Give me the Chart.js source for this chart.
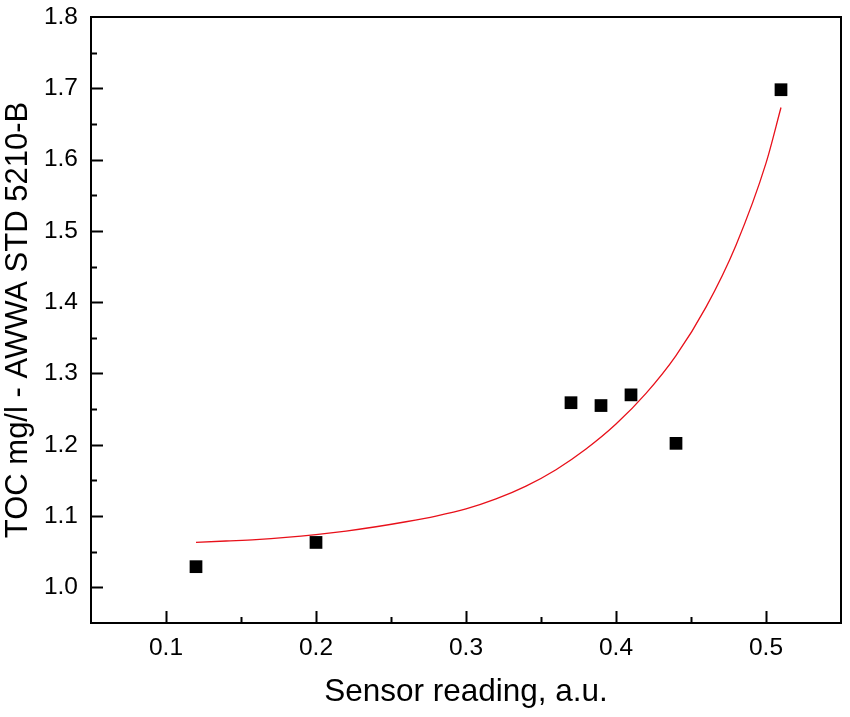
<!DOCTYPE html>
<html>
<head>
<meta charset="utf-8">
<title>TOC vs sensor reading</title>
<script src="https://cdn.jsdelivr.net/npm/chart.js@4/dist/chart.umd.min.js"></script>
<style>
  html, body { margin: 0; padding: 0; background: #fff; }
  #chart-wrap { width: 850px; height: 717px; }
</style>
</head>
<body>
<div id="chart-wrap"><canvas id="myChart"></canvas></div>
<script>
'use strict';

/** Data */
// measured points
let sensorReading = [0.12, 0.20, 0.37, 0.39, 0.41, 0.44, 0.51];
let tocValues = [1.029, 1.063, 1.259, 1.255, 1.270, 1.202, 1.698];

// fitted curve
let fitX = [0.12, 0.14, 0.16, 0.18, 0.20, 0.22, 0.24, 0.26, 0.28, 0.30, 0.32, 0.34, 0.36, 0.38, 0.40, 0.42, 0.44, 0.46, 0.48, 0.50, 0.51];
let fitY = [1.063, 1.065, 1.067, 1.070, 1.074, 1.079, 1.085, 1.092, 1.100, 1.110, 1.124, 1.142, 1.165, 1.194, 1.229, 1.272, 1.325, 1.393, 1.480, 1.595, 1.673];

// axes
let xMin = 0.05, xMax = 0.55;
let yMin = 0.95, yMax = 1.8;
let xTitle = 'Sensor reading, a.u.';
let yTitle = 'TOC mg/l - AWWA STD 5210-B';

/** Helpers */
function toPoints(xs, ys) {
  let pts = [];
  for (let i = 0; i < xs.length; i++) {
    pts.push({ x: xs[i], y: ys[i] });
  }
  return pts;
}

// label only every 0.1, the 0.05 steps become minor ticks
function tenthLabel(value) {
  let hundredths = Math.round(value * 100);
  if (hundredths % 10 !== 0) return '';
  return (hundredths / 100).toFixed(1);
}

// frame box + inward ticks (major / minor)
let frameTicks = {
  id: 'frameTicks',
  afterDraw(chart) {
    let c = chart.ctx;
    let area = chart.chartArea;
    let xs = chart.scales.x;
    let ys = chart.scales.y;
    c.save();
    c.strokeStyle = '#000';
    c.lineWidth = 2;
    c.strokeRect(area.left, area.top, area.right - area.left, area.bottom - area.top);

    c.beginPath();
    ys.ticks.forEach(function(t) {
      let py = Math.round(ys.getPixelForValue(t.value)) + 0.5;
      let len = tenthLabel(t.value) ? 12 : 6;
      if (py <= area.top + 1 || py >= area.bottom - 1) return;
      c.moveTo(area.left, py);
      c.lineTo(area.left + len, py);
    });
    xs.ticks.forEach(function(t) {
      let px = Math.round(xs.getPixelForValue(t.value)) + 0.5;
      let len = tenthLabel(t.value) ? 12 : 6;
      if (px <= area.left + 1 || px >= area.right - 1) return;
      c.moveTo(px, area.bottom);
      c.lineTo(px, area.bottom - len);
    });
    c.stroke();
    c.restore();
  }
};

/** Chart */
let ctx = document.getElementById('myChart');
Chart.defaults.font.family = '"Liberation Sans", Arial, sans-serif';
Chart.defaults.color = '#000';

let chartObj = {
  type: 'scatter',
  data: {
    datasets: [
      {
        label: 'Fit',
        data: toPoints(fitX, fitY),
        showLine: true,
        borderColor: '#e8101a',
        borderWidth: 1.3,
        pointRadius: 0,
        cubicInterpolationMode: 'monotone',
        order: 2
      },
      {
        label: 'TOC',
        data: toPoints(sensorReading, tocValues),
        pointStyle: 'rect',
        pointRadius: 9,
        backgroundColor: '#000',
        borderColor: '#000',
        borderWidth: 0,
        order: 1
      }
    ]
  },
  options: {
    responsive: true,
    maintainAspectRatio: false,
    animation: false,
    layout: { padding: { top: 17, right: 7, left: 0, bottom: 0 } },
    plugins: {
      legend: { display: false },
      tooltip: { enabled: false }
    },
    scales: {
      x: {
        type: 'linear',
        min: xMin,
        max: xMax,
        grid: { display: false, drawTicks: false },
        border: { display: false },
        ticks: {
          stepSize: 0.05,
          autoSkip: false,
          maxRotation: 0,
          padding: 11,
          font: { size: 24.5 },
          callback: tenthLabel
        },
        title: {
          display: true,
          text: xTitle,
          font: { size: 31.5 },
          padding: { top: 4, bottom: 6 }
        },
        afterFit(scale) {
          scale.height = 94;
          scale.paddingLeft = 0;
          scale.paddingRight = 0;
        }
      },
      y: {
        type: 'linear',
        min: yMin,
        max: yMax,
        grid: { display: false, drawTicks: false },
        border: { display: false },
        ticks: {
          stepSize: 0.05,
          autoSkip: false,
          padding: 13,
          font: { size: 24.5 },
          callback: tenthLabel
        },
        title: {
          display: true,
          text: yTitle,
          font: { size: 31 },
          padding: { top: 0, bottom: 0 }
        },
        afterFit(scale) {
          scale.width = 91;
          scale.paddingTop = 0;
          scale.paddingBottom = 0;
        }
      }
    }
  },
  plugins: [frameTicks]
};

new Chart(ctx, chartObj);
</script>
</body>
</html>
